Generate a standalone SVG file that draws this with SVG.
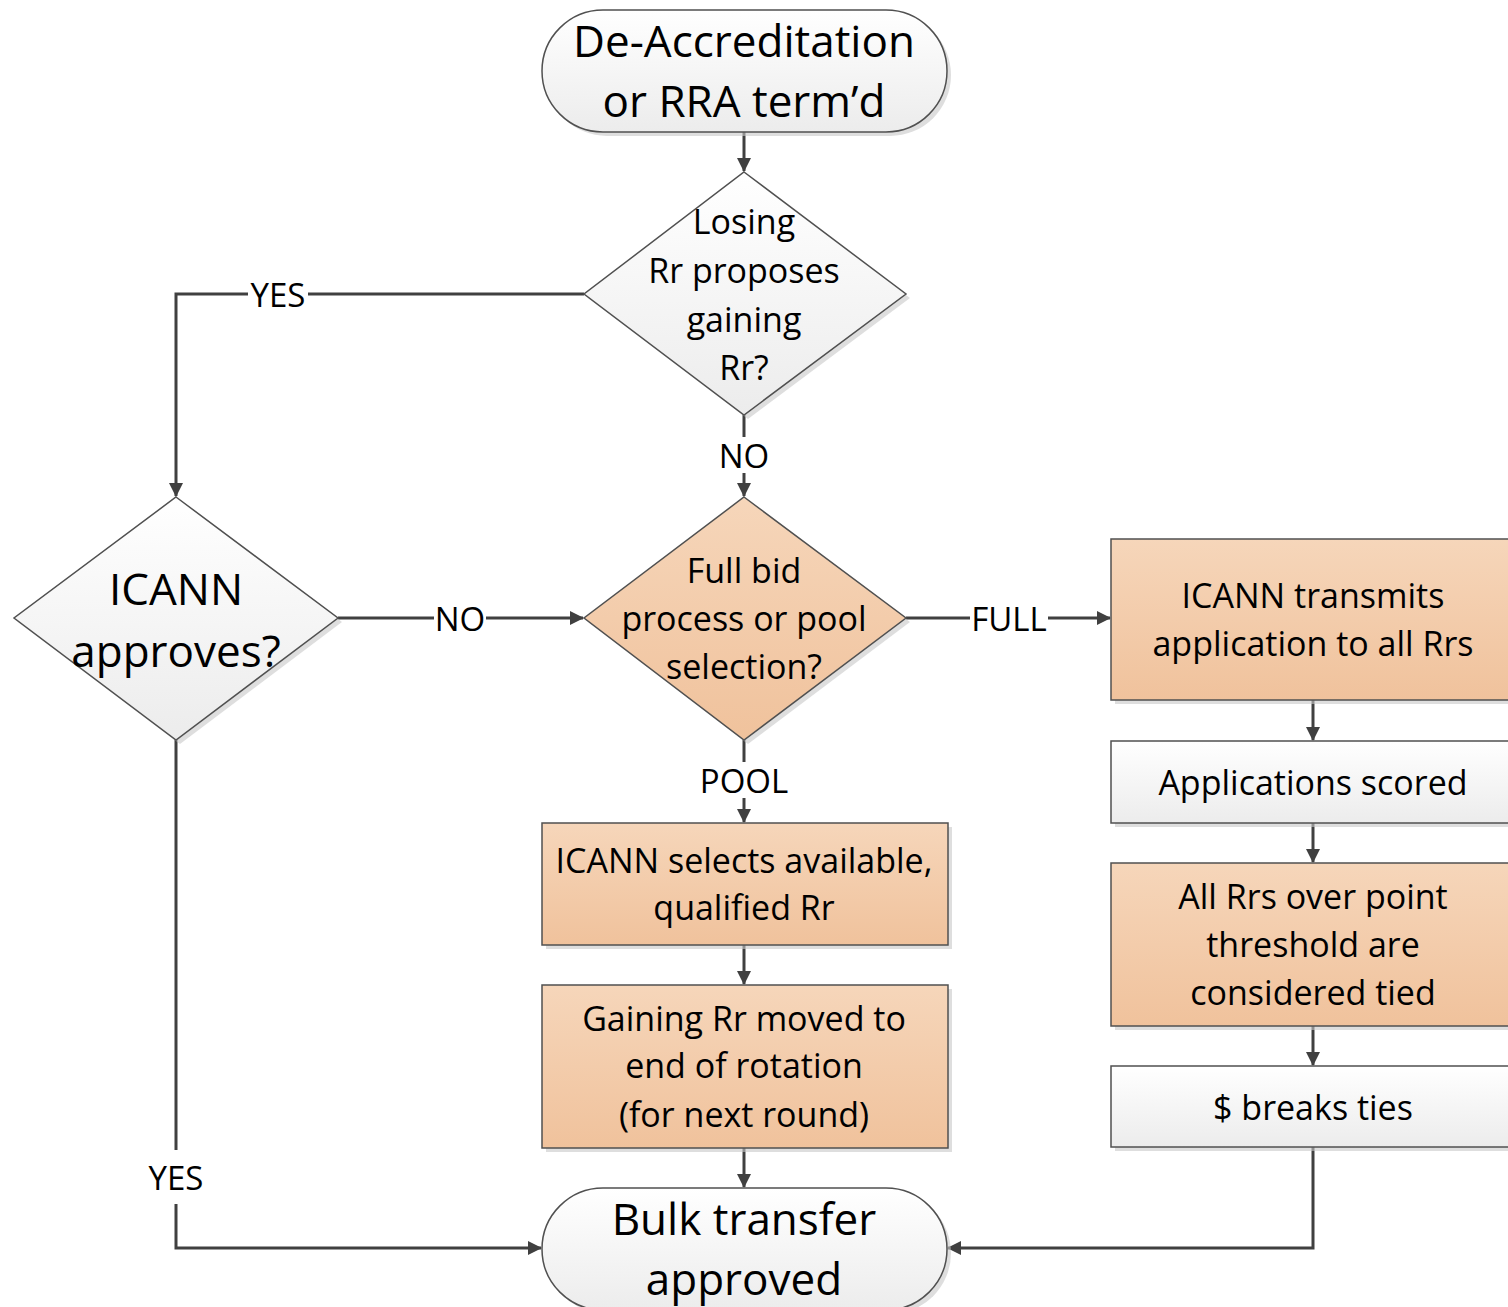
<svg xmlns="http://www.w3.org/2000/svg" width="1508" height="1307" viewBox="0 0 1508 1307">
<defs>
<linearGradient id="gw" x1="0" y1="0" x2="0" y2="1"><stop offset="0" stop-color="#ffffff"/><stop offset="1" stop-color="#ececec"/></linearGradient>
<linearGradient id="gp" x1="0" y1="0" x2="0" y2="1"><stop offset="0" stop-color="#f6d6ba"/><stop offset="1" stop-color="#f0c29c"/></linearGradient>
<marker id="ah" viewBox="0 0 14 14" refX="13" refY="7" markerWidth="14" markerHeight="14" markerUnits="userSpaceOnUse" orient="auto"><path d="M0,0 L14,7 L0,14 z" fill="#404040"/></marker>
<style>
.w{fill:url(#gw);stroke:#505050;stroke-width:1.5}
.p{fill:url(#gp);stroke:#505050;stroke-width:1.5}
.sh{fill:#c8c8c8;opacity:0.6}
.t{font-family:"Open Sans","Liberation Sans",sans-serif;font-size:34px;fill:#000;text-anchor:middle;dominant-baseline:central}
.big{font-size:44px}
.lb{font-family:"Open Sans","Liberation Sans",sans-serif;font-size:33px;fill:#000;text-anchor:middle;dominant-baseline:central}
.c{fill:none;stroke:#404040;stroke-width:3}
.bg{fill:#fff}
</style>
</defs>
<rect width="1508" height="1307" fill="#fff"/>
<g id="connectors">
<path class="c" d="M744,132 V171" marker-end="url(#ah)"/>
<path class="c" d="M584,294 H176 V496" marker-end="url(#ah)"/>
<path class="c" d="M744,415 V496" marker-end="url(#ah)"/>
<path class="c" d="M338,618 H583" marker-end="url(#ah)"/>
<path class="c" d="M906,618 H1110" marker-end="url(#ah)"/>
<path class="c" d="M1313,700 V740" marker-end="url(#ah)"/>
<path class="c" d="M1313,823 V862" marker-end="url(#ah)"/>
<path class="c" d="M1313,1026 V1065" marker-end="url(#ah)"/>
<path class="c" d="M1313,1147 V1248 H948" marker-end="url(#ah)"/>
<path class="c" d="M744,740 V822" marker-end="url(#ah)"/>
<path class="c" d="M744,945 V984" marker-end="url(#ah)"/>
<path class="c" d="M744,1148 V1187" marker-end="url(#ah)"/>
<path class="c" d="M176,740 V1248 H541" marker-end="url(#ah)"/>
<rect class="bg" x="248" y="276" width="60" height="36"/>
<text class="lb" x="278" y="294">YES</text>
<rect class="bg" x="718" y="437" width="52" height="36"/>
<text class="lb" x="744" y="455">NO</text>
<rect class="bg" x="434" y="600" width="52" height="36"/>
<text class="lb" x="460" y="618">NO</text>
<rect class="bg" x="970" y="600" width="78" height="36"/>
<text class="lb" x="1009" y="618">FULL</text>
<rect class="bg" x="698" y="762" width="92" height="36"/>
<text class="lb" x="744" y="780">POOL</text>
<rect class="bg" x="144" y="1150" width="64" height="54"/>
<text class="lb" x="176" y="1177">YES</text>
</g>
<g id="start">
<rect class="sh" x="546" y="14" width="405" height="122" rx="61"/>
<rect class="w" x="542" y="10" width="405" height="122" rx="61"/>
<text class="t big" x="744" y="40">De-Accreditation</text>
<text class="t big" x="744" y="100">or RRA term’d</text>
</g>
<g id="losing">
<path class="sh" d="M748,176 L910,298 L748,419 L588,298 Z"/>
<path class="w" d="M744,172 L906,294 L744,415 L584,294 Z"/>
<text class="t" x="744" y="221">Losing</text>
<text class="t" x="744" y="270">Rr proposes</text>
<text class="t" x="744" y="319">gaining</text>
<text class="t" x="744" y="367">Rr?</text>
</g>
<g id="approves">
<path class="sh" d="M180,501 L342,622 L180,744 L18,622 Z"/>
<path class="w" d="M176,497 L338,618 L176,740 L14,618 Z"/>
<text class="t big" x="176" y="588">ICANN</text>
<text class="t big" x="176" y="650">approves?</text>
</g>
<g id="fullbid">
<path class="sh" d="M748,501 L910,622 L748,744 L588,622 Z"/>
<path class="p" d="M744,497 L906,618 L744,740 L584,618 Z"/>
<text class="t" x="744" y="570">Full bid</text>
<text class="t" x="744" y="618">process or pool</text>
<text class="t" x="744" y="666">selection?</text>
</g>
<g id="transmits">
<rect class="sh" x="1115" y="543" width="400" height="161"/>
<rect class="p" x="1111" y="539" width="400" height="161"/>
<text class="t" x="1313" y="595">ICANN transmits</text>
<text class="t" x="1313" y="643">application to all Rrs</text>
</g>
<g id="scored">
<rect class="sh" x="1115" y="745" width="400" height="82"/>
<rect class="w" x="1111" y="741" width="400" height="82"/>
<text class="t" x="1313" y="782">Applications scored</text>
</g>
<g id="tied">
<rect class="sh" x="1115" y="867" width="400" height="163"/>
<rect class="p" x="1111" y="863" width="400" height="163"/>
<text class="t" x="1313" y="896">All Rrs over point</text>
<text class="t" x="1313" y="944">threshold are</text>
<text class="t" x="1313" y="992">considered tied</text>
</g>
<g id="ties">
<rect class="sh" x="1115" y="1070" width="400" height="81"/>
<rect class="w" x="1111" y="1066" width="400" height="81"/>
<text class="t" x="1313" y="1107">$ breaks ties</text>
</g>
<g id="selects">
<rect class="sh" x="546" y="827" width="406" height="122"/>
<rect class="p" x="542" y="823" width="406" height="122"/>
<text class="t" x="744" y="860">ICANN selects available,</text>
<text class="t" x="744" y="907">qualified Rr</text>
</g>
<g id="rotation">
<rect class="sh" x="546" y="989" width="406" height="163"/>
<rect class="p" x="542" y="985" width="406" height="163"/>
<text class="t" x="744" y="1018">Gaining Rr moved to</text>
<text class="t" x="744" y="1065">end of rotation</text>
<text class="t" x="744" y="1114">(for next round)</text>
</g>
<g id="end">
<rect class="sh" x="546" y="1192" width="405" height="122" rx="61"/>
<rect class="w" x="542" y="1188" width="405" height="122" rx="61"/>
<text class="t big" x="744" y="1218">Bulk transfer</text>
<text class="t big" x="744" y="1278">approved</text>
</g>
</svg>
